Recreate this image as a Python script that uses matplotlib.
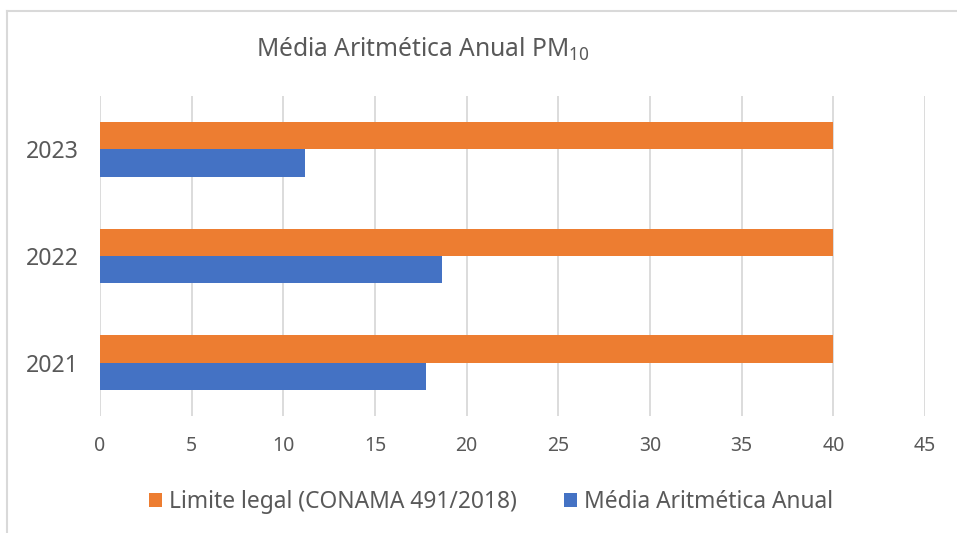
import matplotlib
matplotlib.use('Agg')
import matplotlib.pyplot as plt
from matplotlib.patches import Patch
from matplotlib.lines import Line2D
import numpy as np

# data
anos = ['2021', '2022', '2023']
media_anual = [17.76, 18.66, 11.2]
limite_legal = [40, 40, 40]
x_ticks = [0, 5, 10, 15, 20, 25, 30, 35, 40, 45]

cor_media = '#4472C4'
cor_limite = '#ED7D31'
cor_texto = '#595959'
cor_grade = '#D9D9D9'

plt.rcParams['font.family'] = ['Noto Sans', 'DejaVu Sans']
plt.rcParams['mathtext.fontset'] = 'custom'
plt.rcParams['mathtext.rm'] = 'Noto Sans'

fig = plt.figure(figsize=(9.57, 5.33), dpi=100)
ax = fig.add_axes([0.1045, 0.2186, 0.8621, 0.6022])

y = np.arange(len(anos))
h = 0.257
ax.barh(y + h / 2, limite_legal, height=h, color=cor_limite, zorder=3)
ax.barh(y - h / 2, media_anual, height=h, color=cor_media, zorder=3)

ax.set_xlim(0, 45)
ax.set_ylim(-0.5, len(anos) - 0.5)
ax.set_xticks(x_ticks)
ax.set_yticks(y)
ax.set_yticklabels(anos)
ax.xaxis.grid(True, color=cor_grade, linewidth=1.3, zorder=0)
ax.set_axisbelow(True)
for s in ax.spines.values():
    s.set_visible(False)
ax.tick_params(axis='x', length=0, pad=14, labelsize=14, labelcolor=cor_texto)
ax.tick_params(axis='y', length=0, pad=15.5, labelsize=16.6, labelcolor=cor_texto)

fig.text(0.4415, 0.894, 'Média Aritmética Anual PM$_{\\mathrm{10}}$',
         ha='center', va='baseline', fontsize=17.7, color=cor_texto)

handles = [Patch(facecolor=cor_limite), Patch(facecolor=cor_media)]
fig.legend(handles, ['Limite legal (CONAMA 491/2018)', 'Média Aritmética Anual'],
           loc='center', bbox_to_anchor=(0.513, 0.058), ncol=2, frameon=False,
           fontsize=16.4, labelcolor=cor_texto, handlelength=0.57, handleheight=0.57,
           handletextpad=0.3, columnspacing=2.1)

# light border of the chart area
fig.add_artist(Line2D([7.5 / 957, 1], [1 - 10.5 / 533, 1 - 10.5 / 533],
                      transform=fig.transFigure, color=cor_grade, linewidth=1.5))
fig.add_artist(Line2D([7.5 / 957, 7.5 / 957], [0, 1 - 10.5 / 533],
                      transform=fig.transFigure, color=cor_grade, linewidth=1.5))

fig.savefig('out.png', dpi=100)
